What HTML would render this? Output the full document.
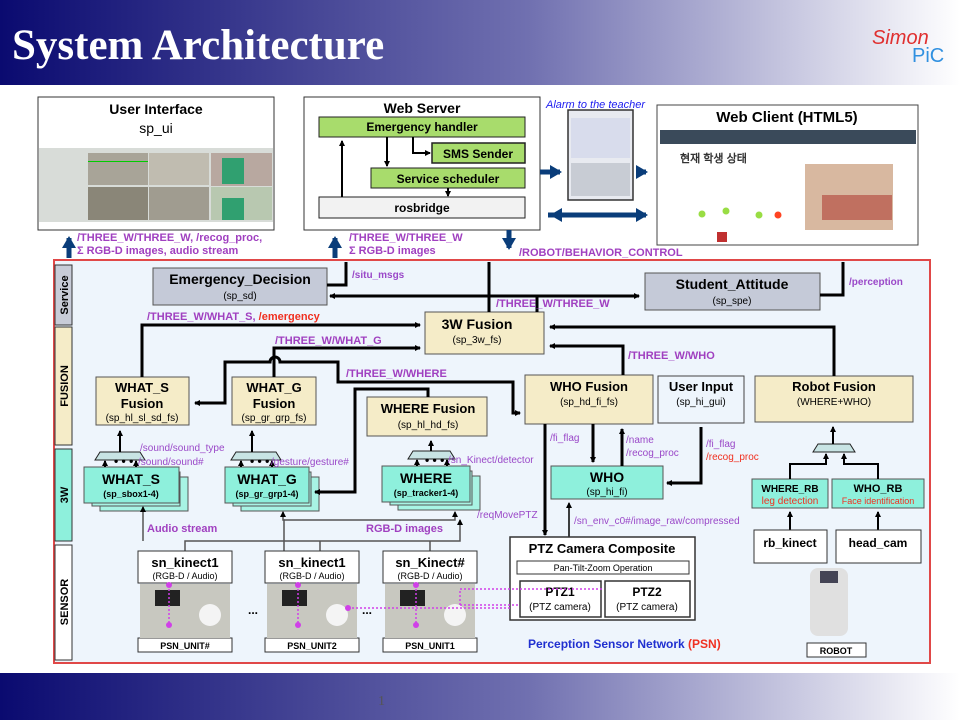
<!DOCTYPE html>
<html><head><meta charset="utf-8"><style>
body{margin:0;width:960px;height:720px;overflow:hidden;background:#fff}
svg{display:block}
text{font-family:"Liberation Sans",Arial,sans-serif}
.b{font-weight:bold}
.p{fill:#a040c0;font-weight:bold;font-size:11px}
.pl{fill:#9a48c8;font-size:10px}
.r{fill:#f03020}
</style></head><body>
<svg width="960" height="720" viewBox="0 0 960 720" xmlns="http://www.w3.org/2000/svg">
<defs>
<linearGradient id="hg" x1="0" x2="1"><stop offset="0" stop-color="#0a0a70"/><stop offset="0.55" stop-color="#7070b0"/><stop offset="1" stop-color="#ffffff"/></linearGradient>
<marker id="a" markerWidth="6" markerHeight="6" refX="5" refY="3" orient="auto" markerUnits="userSpaceOnUse"><path d="M0,0L6,3L0,6z" fill="#000"/></marker>
<marker id="ab" markerWidth="14" markerHeight="14" refX="10" refY="7" orient="auto" markerUnits="userSpaceOnUse"><path d="M0,0L12,7L0,14z" fill="#0a3d7a"/></marker>
<marker id="am" markerWidth="6" markerHeight="6" refX="3" refY="3" markerUnits="userSpaceOnUse"><circle cx="3" cy="3" r="3" fill="#d040e8"/></marker>
</defs>
<rect x="0" y="0" width="960" height="85" fill="url(#hg)"/>
<text x="12" y="59" fill="#fff" font-weight="bold" font-size="43" style="font-family:'Liberation Serif',serif">System Architecture</text>
<text x="872" y="44" fill="#e03030" font-size="20" font-style="italic">Simon</text>
<text x="912" y="62" fill="#3090e0" font-size="20">PiC</text>
<rect x="0" y="673" width="960" height="47" fill="url(#hg)"/>
<text x="378" y="705" fill="#555" font-size="14" style="font-family:'Liberation Serif',serif">1</text>

<rect x="54" y="260" width="876" height="403" fill="#eef5fc" stroke="#e04848" stroke-width="2"/>
<rect x="55" y="265" width="17" height="60" fill="#c8ccd8" stroke="#333"/>
<rect x="55" y="327" width="17" height="118" fill="#f5ecc8" stroke="#333"/>
<rect x="55" y="449" width="17" height="92" fill="#8ef0dc" stroke="#333"/>
<rect x="55" y="545" width="17" height="115" fill="#fff" stroke="#333"/>
<g class="b" font-size="11" fill="#000">
<text transform="translate(68,295) rotate(-90)" text-anchor="middle">Service</text>
<text transform="translate(68,386) rotate(-90)" text-anchor="middle">FUSION</text>
<text transform="translate(68,495) rotate(-90)" text-anchor="middle">3W</text>
<text transform="translate(68,602) rotate(-90)" text-anchor="middle">SENSOR</text>
</g>

<rect x="38" y="97" width="236" height="133" fill="#fff" stroke="#333"/>
<text x="156" y="114" class="b" font-size="14" text-anchor="middle">User Interface</text>
<text x="156" y="133" font-size="14" text-anchor="middle">sp_ui</text>
<rect x="39" y="148" width="234" height="74" fill="#d8dcd8"/>
<rect x="88" y="153" width="60" height="32" fill="#a8a498"/><rect x="149" y="153" width="60" height="32" fill="#c0bcb0"/>
<rect x="88" y="187" width="60" height="33" fill="#8a8678"/><rect x="149" y="187" width="60" height="33" fill="#a09c90"/>
<rect x="211" y="153" width="61" height="33" fill="#b8a8a0"/><rect x="211" y="187" width="61" height="33" fill="#b8c8b0"/>
<rect x="222" y="158" width="22" height="26" fill="#30a070"/><rect x="222" y="198" width="22" height="22" fill="#30a070"/>
<rect x="88" y="161" width="60" height="1" fill="#0c0"/>

<rect x="304" y="97" width="236" height="133" fill="#fff" stroke="#333"/>
<text x="422" y="113" class="b" font-size="14" text-anchor="middle">Web Server</text>
<rect x="319" y="117" width="206" height="20" fill="#a8dc6c" stroke="#222"/>
<text x="422" y="131" class="b" font-size="12" text-anchor="middle">Emergency handler</text>
<rect x="432" y="143" width="93" height="20" fill="#a8dc6c" stroke="#222" stroke-width="1.5"/>
<text x="478" y="158" class="b" font-size="12" text-anchor="middle">SMS Sender</text>
<rect x="371" y="168" width="154" height="20" fill="#a8dc6c" stroke="#222"/>
<text x="448" y="183" class="b" font-size="12" text-anchor="middle">Service scheduler</text>
<rect x="319" y="197" width="206" height="21" fill="#f2f2f2" stroke="#222"/>
<text x="422" y="212" class="b" font-size="12" text-anchor="middle">rosbridge</text>
<g stroke="#000" stroke-width="2" fill="none">
<path d="M342 197V141" marker-end="url(#a)"/>
<path d="M387 137V166" marker-end="url(#a)"/>
<path d="M413 137V153H430" marker-end="url(#a)"/>
<path d="M448 188V196" marker-end="url(#a)"/>
</g>

<text x="546" y="108" fill="#2020f0" font-size="11" font-style="italic">Alarm to the teacher</text>
<rect x="568" y="110" width="65" height="90" fill="#e8eaf0" stroke="#333" stroke-width="1.5"/>
<rect x="571" y="118" width="59" height="40" fill="#d8dcec"/>
<rect x="571" y="163" width="59" height="33" fill="#c8ccd4"/>
<rect x="657" y="105" width="261" height="140" fill="#fff" stroke="#444"/>
<rect x="660" y="130" width="256" height="14" fill="#3a4a5a"/>
<text x="787" y="122" class="b" font-size="15" text-anchor="middle">Web Client (HTML5)</text>
<text x="680" y="162" font-size="11" class="b" fill="#333">현재 학생 상태</text>
<rect x="805" y="164" width="88" height="66" fill="#d8b8a0"/>
<rect x="822" y="195" width="70" height="25" fill="#c07060"/>
<circle cx="702" cy="214" r="3.5" fill="#9d4"/><circle cx="726" cy="211" r="3.5" fill="#9d4"/><circle cx="759" cy="215" r="3.5" fill="#9d4"/><circle cx="778" cy="215" r="3.5" fill="#f42"/>
<rect x="717" y="232" width="10" height="10" fill="#c03030"/>
<g stroke="#0a3d7a" stroke-width="5" fill="none">
<path d="M540 172H560" marker-end="url(#ab)"/>
<path d="M636 172H646" marker-end="url(#ab)"/>
<path d="M548 215H646" marker-end="url(#ab)"/>
<path d="M646 215H552" marker-end="url(#ab)"/>
<path d="M509 230V248" marker-end="url(#ab)"/>
<path d="M69 258V238" marker-end="url(#ab)"/>
<path d="M335 258V238" marker-end="url(#ab)"/>
</g>
<text x="77" y="241" class="p">/THREE_W/THREE_W, /recog_proc,</text>
<text x="77" y="254" class="p">Σ RGB-D images, audio stream</text>
<text x="349" y="241" class="p">/THREE_W/THREE_W</text>
<text x="349" y="254" class="p">Σ RGB-D images</text>
<text x="519" y="256" class="p">/ROBOT/BEHAVIOR_CONTROL</text>

<rect x="153" y="268" width="174" height="37" fill="#c5cad8" stroke="#555"/>
<text x="240" y="284" class="b" font-size="14" text-anchor="middle">Emergency_Decision</text>
<text x="240" y="299" font-size="10" text-anchor="middle">(sp_sd)</text>
<rect x="645" y="273" width="175" height="37" fill="#c5cad8" stroke="#555"/>
<text x="732" y="289" class="b" font-size="14" text-anchor="middle">Student_Attitude</text>
<text x="732" y="304" font-size="10" text-anchor="middle">(sp_spe)</text>
<text x="352" y="278" class="pl" font-weight="bold">/situ_msgs</text>
<text x="849" y="285" class="pl" font-weight="bold">/perception</text>

<g fill="#f5ecc8" stroke="#555">
<rect x="425" y="312" width="119" height="42"/>
<rect x="96" y="377" width="93" height="48"/>
<rect x="232" y="377" width="84" height="48"/>
<rect x="367" y="397" width="120" height="39"/>
<rect x="525" y="375" width="128" height="49"/>
<rect x="755" y="376" width="158" height="46"/>
</g>
<rect x="658" y="376" width="86" height="47" fill="#eef5fc" stroke="#444"/>
<text x="477" y="329" class="b" font-size="14" text-anchor="middle">3W Fusion</text>
<text x="477" y="343" font-size="10" text-anchor="middle">(sp_3w_fs)</text>
<text x="142" y="392" class="b" font-size="13" text-anchor="middle">WHAT_S</text>
<text x="142" y="408" class="b" font-size="13" text-anchor="middle">Fusion</text>
<text x="142" y="421" font-size="10" text-anchor="middle">(sp_hl_sl_sd_fs)</text>
<text x="274" y="392" class="b" font-size="13" text-anchor="middle">WHAT_G</text>
<text x="274" y="408" class="b" font-size="13" text-anchor="middle">Fusion</text>
<text x="274" y="421" font-size="10" text-anchor="middle">(sp_gr_grp_fs)</text>
<text x="428" y="413" class="b" font-size="13" text-anchor="middle">WHERE Fusion</text>
<text x="428" y="428" font-size="10" text-anchor="middle">(sp_hl_hd_fs)</text>
<text x="589" y="391" class="b" font-size="13" text-anchor="middle">WHO Fusion</text>
<text x="589" y="405" font-size="10" text-anchor="middle">(sp_hd_fi_fs)</text>
<text x="701" y="391" class="b" font-size="13" text-anchor="middle">User Input</text>
<text x="701" y="405" font-size="10" text-anchor="middle">(sp_hi_gui)</text>
<text x="834" y="391" class="b" font-size="13" text-anchor="middle">Robot Fusion</text>
<text x="834" y="405" font-size="10" text-anchor="middle">(WHERE+WHO)</text>

<g fill="#a8f4e4" stroke="#555">
<rect x="100" y="477" width="88" height="34"/><rect x="92" y="472" width="88" height="34"/>
<rect x="241" y="477" width="78" height="34"/><rect x="233" y="472" width="78" height="34"/>
<rect x="398" y="476" width="82" height="34"/><rect x="390" y="471" width="82" height="34"/>
</g>
<g fill="#8ef0dc" stroke="#555">
<rect x="84" y="467" width="95" height="36"/>
<rect x="225" y="467" width="84" height="36"/>
<rect x="382" y="466" width="88" height="36"/>
<rect x="551" y="466" width="112" height="33"/>
<rect x="752" y="479" width="76" height="29"/>
<rect x="832" y="479" width="92" height="29"/>
</g>
<text x="131" y="484" class="b" font-size="14" text-anchor="middle">WHAT_S</text>
<text x="131" y="497" class="b" font-size="9" text-anchor="middle">(sp_sbox1-4)</text>
<text x="267" y="484" class="b" font-size="14" text-anchor="middle">WHAT_G</text>
<text x="267" y="497" class="b" font-size="9" text-anchor="middle">(sp_gr_grp1-4)</text>
<text x="426" y="483" class="b" font-size="14" text-anchor="middle">WHERE</text>
<text x="426" y="496" class="b" font-size="9" text-anchor="middle">(sp_tracker1-4)</text>
<text x="607" y="482" class="b" font-size="14" text-anchor="middle">WHO</text>
<text x="607" y="495" font-size="10" text-anchor="middle">(sp_hi_fi)</text>
<text x="790" y="492" class="b" font-size="10" text-anchor="middle">WHERE_RB</text>
<text x="790" y="504" class="r" font-size="10" text-anchor="middle">leg detection</text>
<text x="878" y="492" class="b" font-size="11" text-anchor="middle">WHO_RB</text>
<text x="878" y="504" class="r" font-size="9" text-anchor="middle">Face identification</text>

<g fill="#c8e4e4" stroke="#222">
<path d="M100 452H140L145 460H95Z"/><path d="M236 452H276L281 460H231Z"/><path d="M413 451H450L455 459H408Z"/><path d="M818 444H850L855 452H813Z"/>
</g>
<g stroke="#000" stroke-width="2" fill="none">
<path d="M105 467V461" marker-end="url(#a)"/><path d="M136 467V461" marker-end="url(#a)"/><path d="M120 452V431" marker-end="url(#a)"/>
<path d="M241 467V461" marker-end="url(#a)"/><path d="M272 467V461" marker-end="url(#a)"/><path d="M252 452V431" marker-end="url(#a)"/>
<path d="M417 466V460" marker-end="url(#a)"/><path d="M447 466V460" marker-end="url(#a)"/><path d="M431 451V441" marker-end="url(#a)"/>
<path d="M790 479V464H826V454" marker-end="url(#a)"/><path d="M878 479V464H844V454" marker-end="url(#a)"/><path d="M833 444V427" marker-end="url(#a)"/>
<path d="M790 530V512" marker-end="url(#a)"/><path d="M878 530V512" marker-end="url(#a)"/>
</g>
<text x="114" y="465" class="b" font-size="12">• • •</text><text x="250" y="465" class="b" font-size="12">• • •</text><text x="425" y="464" class="b" font-size="12">• • •</text>
<text x="140" y="451" class="pl">/sound/sound_type</text>
<text x="138" y="465" class="pl">/sound/sound#</text>
<text x="271" y="465" class="pl">/gesture/gesture#</text>
<text x="448" y="463" class="pl">/sn_Kinect/detector</text>
<text x="477" y="518" class="pl">/reqMovePTZ</text>

<g stroke="#000" stroke-width="3" fill="none">
<path d="M327 285H346V262"/>
<path d="M537 296H330" marker-end="url(#a)"/>
<path d="M489 312V262"/>
<path d="M537 296H639" marker-end="url(#a)"/>
<path d="M820 295H843V262"/>
<path d="M537 312V296"/>
<path d="M142 377V325H420" marker-end="url(#a)"/>
<path d="M274 377V348H420" marker-end="url(#a)"/>
<path d="M224 403H225V362H270A5 5 0 0 1 280 362H338V382H513V413H520" marker-end="url(#a)"/>
<path d="M224 403H195" marker-end="url(#a)"/>
<path d="M428 397V389H355V492H315" marker-end="url(#a)"/>
<path d="M623 375V346H550" marker-end="url(#a)"/>
<path d="M834 376V327H550" marker-end="url(#a)"/>
<path d="M545 424V535" marker-end="url(#a)"/>
<path d="M593 424V462" marker-end="url(#a)"/>
<path d="M622 466V429" marker-end="url(#a)"/>
<path d="M701 427V483H667" marker-end="url(#a)"/>
</g>
<g stroke="#555" stroke-width="1.5" fill="none">
<path d="M143 541V507" marker-end="url(#a)"/>
<path d="M185 551V541H460V520" marker-end="url(#a)"/>
<path d="M284 551V520H283V512" marker-end="url(#a)"/>
<path d="M284 520H455V512" marker-end="url(#a)"/>
<path d="M320 541V551M430 541V551"/>
<path d="M569 537V503" marker-end="url(#a)" stroke="#000"/>
</g>
<text x="147" y="532" class="p" font-size="10">Audio stream</text>
<text x="366" y="532" class="p" font-size="10">RGB-D images</text>
<text x="147" y="320" class="p">/THREE_W/WHAT_S, <tspan fill="#f03020">/emergency</tspan></text>
<text x="275" y="344" class="p">/THREE_W/WHAT_G</text>
<text x="346" y="377" class="p">/THREE_W/WHERE</text>
<text x="496" y="307" class="p">/THREE_W/THREE_W</text>
<text x="628" y="359" class="p">/THREE_W/WHO</text>
<text x="550" y="441" class="pl">/fi_flag</text>
<text x="626" y="443" class="pl">/name</text>
<text x="626" y="456" class="pl">/recog_proc</text>
<text x="706" y="447" class="pl">/fi_flag</text>
<text x="706" y="460" class="pl" style="fill:#f03020">/recog_proc</text>
<text x="574" y="524" class="pl">/sn_env_c0#/image_raw/compressed</text>

<g fill="#fff" stroke="#333">
<rect x="138" y="551" width="94" height="32"/><rect x="265" y="551" width="94" height="32"/><rect x="383" y="551" width="94" height="32"/>
<rect x="138" y="638" width="94" height="14"/><rect x="265" y="638" width="94" height="14"/><rect x="383" y="638" width="94" height="14"/>
<rect x="754" y="530" width="73" height="33"/><rect x="836" y="530" width="85" height="33"/>
<rect x="807" y="643" width="59" height="14"/>
<rect x="510" y="537" width="185" height="83" stroke-width="1.5"/>
<rect x="517" y="561" width="172" height="13"/>
<rect x="520" y="581" width="81" height="36" stroke-width="1.5"/><rect x="605" y="581" width="85" height="36" stroke-width="1.5"/>
</g>
<g fill="#c8c8c0"><rect x="140" y="584" width="90" height="54"/><rect x="267" y="584" width="90" height="54"/><rect x="385" y="584" width="90" height="54"/></g>
<g fill="#222"><rect x="155" y="590" width="25" height="16"/><rect x="282" y="590" width="25" height="16"/><rect x="400" y="590" width="25" height="16"/></g>
<g fill="#f4f4f4"><circle cx="210" cy="615" r="11"/><circle cx="337" cy="615" r="11"/><circle cx="455" cy="615" r="11"/></g>
<rect x="810" y="568" width="38" height="68" fill="#e0e0e0" rx="8"/><rect x="820" y="571" width="18" height="12" fill="#445"/>
<text x="185" y="567" class="b" font-size="13" text-anchor="middle">sn_kinect1</text>
<text x="185" y="579" font-size="9" text-anchor="middle">(RGB-D / Audio)</text>
<text x="312" y="567" class="b" font-size="13" text-anchor="middle">sn_kinect1</text>
<text x="312" y="579" font-size="9" text-anchor="middle">(RGB-D / Audio)</text>
<text x="430" y="567" class="b" font-size="13" text-anchor="middle">sn_Kinect#</text>
<text x="430" y="579" font-size="9" text-anchor="middle">(RGB-D / Audio)</text>
<text x="185" y="649" font-size="9" class="b" text-anchor="middle">PSN_UNIT#</text>
<text x="312" y="649" font-size="9" class="b" text-anchor="middle">PSN_UNIT2</text>
<text x="430" y="649" font-size="9" class="b" text-anchor="middle">PSN_UNIT1</text>
<text x="248" y="614" class="b" font-size="12">...</text><text x="362" y="614" class="b" font-size="12">...</text>
<text x="790" y="547" class="b" font-size="12" text-anchor="middle">rb_kinect</text>
<text x="878" y="547" class="b" font-size="12" text-anchor="middle">head_cam</text>
<text x="836" y="654" class="b" font-size="9" text-anchor="middle">ROBOT</text>
<text x="602" y="553" class="b" font-size="13" text-anchor="middle">PTZ Camera Composite</text>
<text x="603" y="571" font-size="9" text-anchor="middle">Pan-Tilt-Zoom Operation</text>
<text x="560" y="596" class="b" font-size="12" text-anchor="middle">PTZ1</text>
<text x="560" y="610" font-size="10" text-anchor="middle">(PTZ camera)</text>
<text x="647" y="596" class="b" font-size="12" text-anchor="middle">PTZ2</text>
<text x="647" y="610" font-size="10" text-anchor="middle">(PTZ camera)</text>
<text x="528" y="648" class="b" font-size="12" fill="#2030d0">Perception Sensor Network <tspan fill="#f03020">(PSN)</tspan></text>
<g stroke="#d040e8" stroke-width="1.5" stroke-dasharray="2,2" fill="none">
<path d="M169 585V625" marker-start="url(#am)" marker-end="url(#am)"/>
<path d="M298 585V625" marker-start="url(#am)" marker-end="url(#am)"/>
<path d="M416 585V625" marker-start="url(#am)" marker-end="url(#am)"/>
<path d="M348 608H510" marker-start="url(#am)"/>
<path d="M460 605H520"/><path d="M460 605V589H604"/>
</g>
</svg>
</body></html>
